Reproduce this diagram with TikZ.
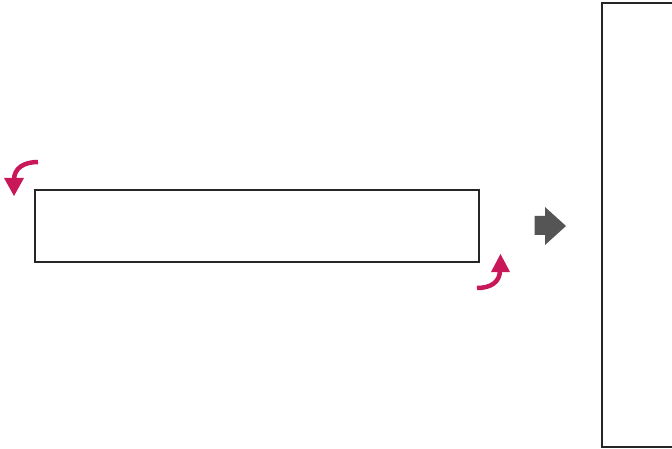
\documentclass[tikz,border=0pt]{standalone}
\begin{document}
\begin{tikzpicture}[x=1pt,y=-1pt,
  box/.style={draw=black!85,line width=1.6pt},
  curl/.style={draw=pinkc,line width=4.5pt},
  head/.style={fill=pinkc},
  bigarrow/.style={fill=grayc}]
\definecolor{pinkc}{RGB}{200,24,90}
\definecolor{grayc}{RGB}{85,85,85}
\useasboundingbox (0,0) rectangle (672,449);
\draw[box] (35,190) rectangle (479,262);
\begin{scope}
\clip (0,0) rectangle (672,449);
\draw[box] (602,3) rectangle (690,447);
\end{scope}
% gray arrow
\fill[bigarrow] (534.5,216) -- (545,216) -- (545,207) -- (566,226) -- (545,245) -- (545,235) -- (534.5,235) -- cycle;
% pink arrow 1
\draw[curl] (38,162) .. controls (24,162) and (14,168) .. (14,180);
\fill[head] (4,178) -- (24,178) -- (14,196) -- cycle;
% pink arrow 2
\draw[curl] (477,288) .. controls (491,288) and (500,282) .. (500,270);
\fill[head] (491,272) -- (510,272) -- (500.5,254) -- cycle;
\end{tikzpicture}
\end{document}
